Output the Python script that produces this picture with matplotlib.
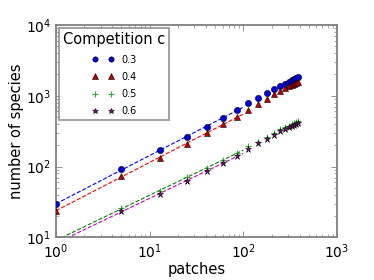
import numpy as np
import matplotlib
matplotlib.use("Agg")
import matplotlib.pyplot as plt

# patch counts on the x axis
patches = np.array([1, 5, 13, 25, 41, 61, 85, 113, 142, 178, 213, 247,
                    279, 308, 328, 345, 362, 381])

# number of species for each competition value
sp_03 = np.array([29.7, 91.9, 171, 262, 367, 492, 632, 782, 925, 1088, 1240,
                  1380, 1487, 1571, 1660, 1715, 1772, 1832])
sp_04 = np.array([23.7, 74.6, 134, 207, 296, 397, 508, 638, 760, 903, 1054,
                  1184, 1293, 1380, 1439, 1487, 1536, 1571])
sp_05 = np.array([np.nan, 25.8, 45.8, 70.8, 94.9, 124, 158, 193, 225, 265, 302,
                  337, 360, 379, 397, 410, 424, 438])
sp_06 = np.array([np.nan, 23.7, 41.1, 62.2, 86.9, 112, 143, 175, 214, 249, 283,
                  316, 341, 364, 379, 392, 405, 418])

labels = ["0.3", "0.4", "0.5", "0.6"]
series = [sp_03, sp_04, sp_05, sp_06]
markers = ["o", "^", "+", "*"]
mcolors = ["#0000dd", "#bb0000", "#33aa33", "#800080"]
lcolors = ["b", "r", "g", "m"]

# power law fits over the small patch range
fit_max = 100
fit_x = np.array([1.0, fit_max])

fig = plt.figure(figsize=(3.74, 2.8), dpi=100)
ax = fig.add_axes([0.1497, 0.152, 0.7513, 0.759])
ax.set_xscale("log")
ax.set_yscale("log")

for s, lab, mk, mc, lc in zip(series, labels, markers, mcolors, lcolors):
    ok = (~np.isnan(s)) & (patches < fit_max)
    z, c = np.polyfit(np.log10(patches[ok]), np.log10(s[ok]), 1)
    ax.plot(fit_x, 10**c * fit_x**z, "--", color=lc, lw=0.8, zorder=2)
    if mk == "+":
        ax.plot(patches, s, mk, color=mc, ms=5, mew=0.8, label=lab, zorder=3)
    else:
        ax.plot(patches, s, mk, color=mc, mec="k", mew=0.4, ms=4.5,
                label=lab, zorder=3)

ax.set_xlim(1, 1000)
ax.set_ylim(10, 1e4)
ax.set_xlabel("patches", fontsize=10.5, labelpad=1)
ax.set_ylabel("number of species", fontsize=10.5, labelpad=1)

for sp in ax.spines.values():
    sp.set_color("#808080")
    sp.set_linewidth(1.3)
ax.tick_params(which="both", direction="in", top=True, right=True,
               colors="#808080", labelcolor="k", labelsize=10)
ax.tick_params(which="major", length=4, width=0.6)
ax.tick_params(which="minor", length=2, width=0.5)

leg = ax.legend(title="Competition c", loc="upper left", numpoints=2,
                fontsize=7, title_fontsize=10.5, fancybox=False,
                borderaxespad=0.35, handlelength=2.2, labelspacing=0.75,
                borderpad=0.4, markerscale=0.85)
leg.get_frame().set_edgecolor("#808080")
leg.get_frame().set_linewidth(1.3)

fig.savefig("out.png", dpi=100)
